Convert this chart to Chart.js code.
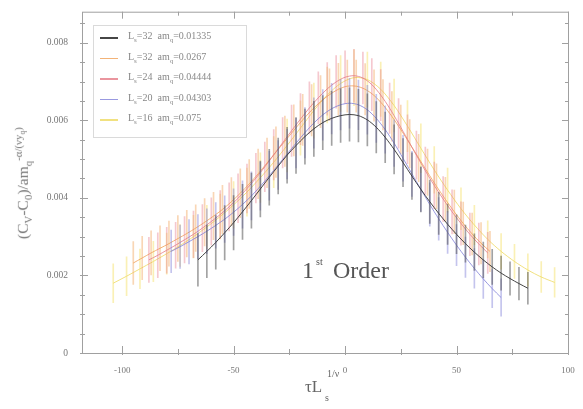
<!DOCTYPE html>
<html>
<head>
<meta charset="utf-8">
<script src="https://cdn.jsdelivr.net/npm/chart.js@4.4.0/dist/chart.umd.min.js"></script>
<style>
  body { margin: 0; background: #fff; }
  #wrap { position: relative; width: 583px; height: 409px; font-family: "Liberation Serif", "DejaVu Serif", serif; color: #555; }
  canvas { position: absolute; left: 0; top: 0; }
  .txt { position: absolute; white-space: nowrap; font-weight: normal; }
  #legend { position: absolute; left: 93px; top: 25px; width: 154px; height: 113px; border: 1px solid #dadada; box-sizing: border-box; }
  .row { position: absolute; left: 0; font-size: 10px; color: #888; }
  .sw { position: absolute; left: 6px; top: 6px; width: 18px; height: 1.5px; }
  .lab { position: absolute; left: 34px; top: -1px; white-space: nowrap; }
  sub, sup { font-size: 70%; }
</style>
</head>
<body>
<div id="wrap">
  <canvas id="graph" width="583" height="409"></canvas>
  <div id="legend"></div>
  <div class="txt" id="ytitle" style="left:-62px;top:172px;width:170px;text-align:center;font-size:15.5px;color:#777;transform:rotate(-90deg);">(C<sub>V</sub>-C<sub>0</sub>)/am<sub>q</sub><sup>-&alpha;/(&nu;y<sub>q</sub>)</sup></div>
  <div class="txt" style="left:305px;top:377px;font-size:17px;color:#666;">&tau;L</div>
  <div class="txt" style="left:325px;top:392px;font-size:10px;color:#666;">s</div>
  <div class="txt" style="left:327px;top:368px;font-size:10px;color:#666;">1/&nu;</div>
  <div class="txt" style="left:302px;top:257px;font-size:24px;color:#555;">1</div>
  <div class="txt" style="left:316px;top:256px;font-size:10px;color:#555;">st</div>
  <div class="txt" style="left:333px;top:257px;font-size:24px;color:#555;">Order</div>
</div>
<script>
// tick positions (labels only on the larger steps)
const xTicks = [-100, -75, -50, -25, 0, 25, 50, 75, 100]
const xLabels = [-100, -50, 0, 50, 100]
const yTicks = [0, 0.0005, 0.001, 0.0015, 0.002, 0.0025, 0.003, 0.0035, 0.004, 0.0045, 0.005, 0.0055, 0.006, 0.0065, 0.007, 0.0075, 0.008, 0.0085]
const yLabels = [0, 0.002, 0.004, 0.006, 0.008]

// legend
const legendL = [32, 32, 24, 20, 16]
const legendAmq = ['0.01335', '0.0267', '0.04444', '0.04303', '0.075']

// L=32 am_q=0.01335
const x1 = [-66,-62,-58,-54,-50,-46,-42,-38,-34,-30,-26,-22,-18,-14,-10,-6,-2,2,6,10,14,18,22,26,30,34,38,42,46,50,54,58,62,66,70,74,78,82]
const y1 = [0.00240,0.00262,0.00285,0.00310,0.00336,0.00364,0.00393,0.00423,0.00453,0.00482,
            0.00510,0.00535,0.00558,0.00578,0.00594,0.00605,0.00612,0.00615,0.00612,0.00601,
            0.00582,0.00556,0.00525,0.00491,0.00456,0.00422,0.00390,0.00360,0.00332,0.00306,
            0.00282,0.00260,0.00240,0.00222,0.00206,0.00192,0.00179,0.00167]
const e1 = [0.00068,0.00068,0.00069,0.00070,0.00070,0.00071,0.00071,0.00072,0.00072,0.00072,
            0.00072,0.00072,0.00071,0.00071,0.00070,0.00070,0.00069,0.00069,0.00068,0.00067,
            0.00066,0.00065,0.00063,0.00062,0.00060,0.00058,0.00056,0.00054,0.00052,0.00050,
            0.00048,0.00047,0.00046,0.00045,0.00044,0.00043,0.00042,0.00041]

// L=32 am_q=0.0267
const x2 = [-95,-91,-87,-83,-79,-75,-71,-67,-63,-59,-55,-51,-47,-43,-39,-35,-31,-27,-23,-19,-15,-11,-7,-3,1,5,9,13,17,21,25,29,33,37,41,45,49,53,57,61,65]
const y2 = [0.00232,0.00245,0.00258,0.00270,0.00282,0.00295,0.00308,0.00322,0.00337,0.00353,
            0.00370,0.00390,0.00412,0.00436,0.00462,0.00490,0.00518,0.00546,0.00574,0.00601,
            0.00626,0.00648,0.00666,0.00680,0.00688,0.00688,0.00680,0.00664,0.00640,0.00610,
            0.00576,0.00540,0.00503,0.00466,0.00430,0.00396,0.00364,0.00334,0.00307,0.00283,0.00262]
const e2 = [0.00055,0.00056,0.00057,0.00058,0.00058,0.00059,0.00060,0.00060,0.00061,0.00061,
            0.00062,0.00062,0.00063,0.00063,0.00064,0.00064,0.00065,0.00065,0.00066,0.00066,
            0.00066,0.00067,0.00067,0.00067,0.00067,0.00067,0.00066,0.00066,0.00065,0.00064,
            0.00063,0.00062,0.00061,0.00060,0.00058,0.00057,0.00056,0.00055,0.00054,0.00053,0.00052]

// L=24 am_q=0.04444
const x3 = [-88,-84,-80,-76,-72,-68,-64,-60,-56,-52,-48,-44,-40,-36,-32,-28,-24,-20,-16,-12,-8,-4,0,4,8,12,16,20,24,28,32,36,40,44,48,52,56,60,64]
const y3 = [0.00240,0.00252,0.00265,0.00278,0.00292,0.00306,0.00322,0.00339,0.00357,0.00377,
            0.00399,0.00424,0.00451,0.00480,0.00511,0.00542,0.00573,0.00603,0.00632,0.00658,
            0.00681,0.00699,0.00711,0.00715,0.00709,0.00692,0.00665,0.00631,0.00592,0.00551,
            0.00510,0.00470,0.00432,0.00397,0.00364,0.00334,0.00306,0.00281,0.00258]
const e3 = [0.00058,0.00058,0.00059,0.00059,0.00060,0.00060,0.00061,0.00061,0.00062,0.00062,
            0.00063,0.00063,0.00064,0.00064,0.00065,0.00065,0.00066,0.00066,0.00067,0.00067,
            0.00068,0.00068,0.00068,0.00068,0.00067,0.00067,0.00066,0.00065,0.00064,0.00063,
            0.00062,0.00061,0.00060,0.00058,0.00057,0.00056,0.00055,0.00054,0.00053]

// L=20 am_q=0.04303
const x4 = [-78,-74,-70,-66,-62,-58,-54,-50,-46,-42,-38,-34,-30,-26,-22,-18,-14,-10,-6,-2,2,6,10,14,18,22,26,30,34,38,42,46,50,54,58,62,66,70]
const y4 = [0.00262,0.00274,0.00287,0.00300,0.00314,0.00329,0.00345,0.00363,0.00383,0.00405,
            0.00430,0.00457,0.00485,0.00513,0.00541,0.00568,0.00593,0.00614,0.00630,0.00640,
            0.00644,0.00640,0.00627,0.00605,0.00576,0.00541,0.00502,0.00462,0.00422,0.00383,
            0.00346,0.00311,0.00278,0.00247,0.00218,0.00191,0.00166,0.00143]
const e4 = [0.00055,0.00056,0.00057,0.00057,0.00058,0.00059,0.00060,0.00060,0.00061,0.00062,
            0.00062,0.00063,0.00063,0.00064,0.00064,0.00065,0.00065,0.00065,0.00065,0.00065,
            0.00064,0.00064,0.00063,0.00062,0.00061,0.00060,0.00059,0.00058,0.00057,0.00056,
            0.00055,0.00054,0.00053,0.00052,0.00051,0.00050,0.00049,0.00048]

// L=16 am_q=0.075
const x5 = [-104,-98,-92,-86,-80,-74,-68,-62,-56,-50,-44,-38,-32,-26,-20,-14,-8,-2,4,10,16,22,28,34,40,46,52,58,64,70,76,82,88,94]
const y5 = [0.00180,0.00198,0.00217,0.00236,0.00256,0.00277,0.00300,0.00325,0.00352,0.00382,
            0.00415,0.00452,0.00492,0.00535,0.00580,0.00625,0.00665,0.00695,0.00710,0.00705,
            0.00680,0.00638,0.00585,0.00528,0.00472,0.00420,0.00372,0.00330,0.00293,0.00262,
            0.00236,0.00214,0.00196,0.00182]
const e5 = [0.00050,0.00050,0.00051,0.00052,0.00053,0.00054,0.00055,0.00056,0.00058,0.00060,
            0.00062,0.00064,0.00066,0.00068,0.00070,0.00071,0.00072,0.00072,0.00072,0.00071,
            0.00070,0.00068,0.00066,0.00063,0.00060,0.00057,0.00054,0.00051,0.00048,0.00046,
            0.00044,0.00042,0.00040,0.00038]

const series = [
  { xs: x1, ys: y1, es: e1, line: 'rgba(50,50,50,0.9)', bar: 'rgba(70,70,70,0.5)', order: 1 },
  { xs: x2, ys: y2, es: e2, line: 'rgba(240,160,85,0.8)', bar: 'rgba(242,165,90,0.45)', order: 4 },
  { xs: x3, ys: y3, es: e3, line: 'rgba(229,122,134,0.8)', bar: 'rgba(232,125,140,0.42)', order: 3 },
  { xs: x4, ys: y4, es: e4, line: 'rgba(127,127,216,0.8)', bar: 'rgba(125,125,215,0.45)', order: 2 },
  { xs: x5, ys: y5, es: e5, line: 'rgba(239,220,106,0.85)', bar: 'rgba(245,228,120,0.55)', order: 5 }
]

const datasets = []
series.forEach(s => {
  datasets.push({
    type: 'line',
    data: s.xs.map((x, i) => ({ x: x, y: s.ys[i] })),
    borderColor: s.line,
    borderWidth: 1,
    pointRadius: 0,
    tension: 0.3,
    order: s.order
  })
  datasets.push({
    type: 'bar',
    data: s.xs.map((x, i) => ({ x: x, y: [s.ys[i] - s.es[i], s.ys[i] + s.es[i]] })),
    backgroundColor: s.bar,
    barThickness: 1,
    grouped: false,
    order: s.order
  })
})

// legend box
document.querySelector('#legend').innerHTML = legendL.map((L, i) =>
  '<div class="row" style="top:' + (5 + i * 20.5) + 'px;width:150px;height:16px;">' +
  '<div class="sw" style="background:' + series[i].line + '"></div>' +
  '<div class="lab">L<sub>s</sub>=' + L + '&nbsp;&nbsp;am<sub>q</sub>=' + legendAmq[i] + '</div></div>'
).join('')

const framePlugin = {
  id: 'frame',
  afterDraw(chart) {
    const { ctx, chartArea: a, scales: { x, y } } = chart
    ctx.save()
    ctx.strokeStyle = '#a0a0a0'
    ctx.lineWidth = 1
    ctx.strokeRect(a.left + 0.5, a.top + 0.5, a.right - a.left, a.bottom - a.top)
    ctx.beginPath()
    y.ticks.forEach(t => {
      const p = Math.round(y.getPixelForValue(t.value)) + 0.5
      const len = yLabels.includes(t.value) ? 6 : 3
      ctx.moveTo(a.left - 2, p); ctx.lineTo(a.left + len, p)
      ctx.moveTo(a.right - len, p); ctx.lineTo(a.right, p)
    })
    x.ticks.forEach(t => {
      const p = Math.round(x.getPixelForValue(t.value)) + 0.5
      const len = xLabels.includes(t.value) ? 7 : 4
      ctx.moveTo(p, a.bottom + 2); ctx.lineTo(p, a.bottom - len)
      ctx.moveTo(p, a.top); ctx.lineTo(p, a.top + len)
    })
    ctx.stroke()
    ctx.restore()
  }
}

new Chart(document.querySelector('#graph'), {
  type: 'bar',
  data: { datasets: datasets },
  options: {
    responsive: false,
    animation: false,
    layout: { padding: { top: 10, right: 15, left: 0, bottom: 0 } },
    plugins: { legend: { display: false }, tooltip: { enabled: false } },
    scales: {
      x: {
        type: 'linear',
        min: -118,
        max: 100,
        offset: false,
        grid: { display: false, offset: false },
        border: { display: false },
        afterBuildTicks: axis => { axis.ticks = xTicks.map(v => ({ value: v })) },
        afterFit: axis => { axis.height = 56 },
        ticks: {
          padding: 4,
          maxRotation: 0,
          autoSkip: false,
          color: '#777',
          font: { family: 'Liberation Serif', size: 9 },
          callback: v => xLabels.includes(v) ? String(v) : ''
        }
      },
      y: {
        type: 'linear',
        min: 0,
        max: 0.0088,
        grid: { display: false },
        border: { display: false },
        afterBuildTicks: axis => { axis.ticks = yTicks.map(v => ({ value: v })) },
        afterFit: axis => { axis.width = 82 },
        ticks: {
          padding: 6,
          autoSkip: false,
          color: '#777',
          font: { family: 'Liberation Serif', size: 9.5 },
          callback: v => yLabels.includes(v) ? (v === 0 ? '0' : v.toFixed(3)) : ''
        }
      }
    }
  },
  plugins: [framePlugin]
})
</script>
</body>
</html>
